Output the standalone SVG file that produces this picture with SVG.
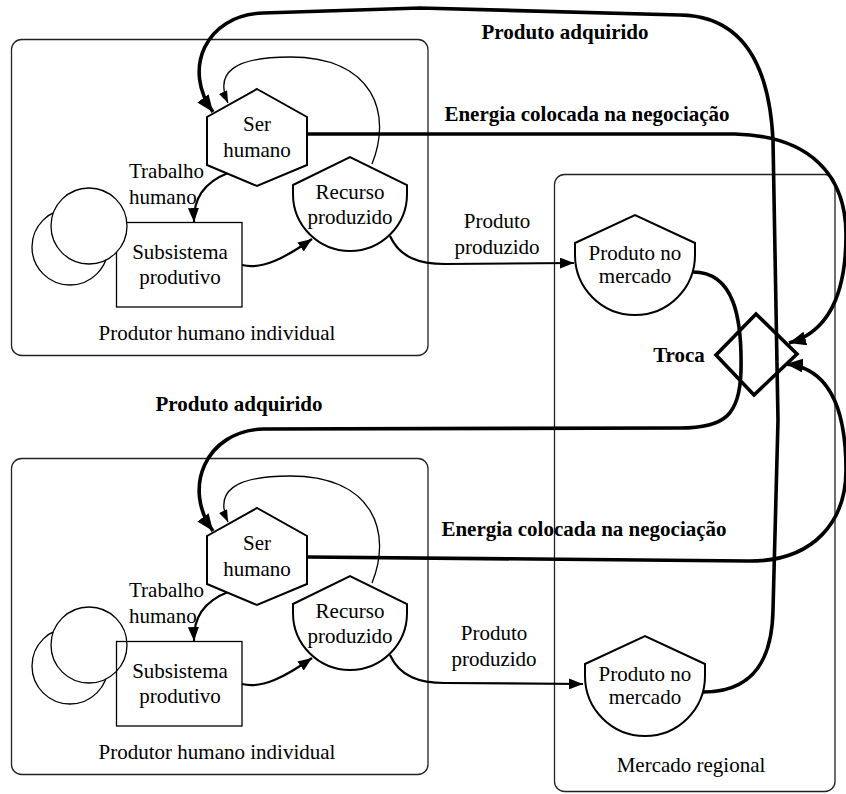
<svg xmlns="http://www.w3.org/2000/svg" width="846" height="794" viewBox="0 0 846 794" font-family="'Liberation Serif', 'Times New Roman', 'DejaVu Serif', serif">
<style>
text{font-family:"Liberation Serif","Times New Roman","DejaVu Serif",serif;font-size:21px;fill:#000;text-anchor:middle}
.b{font-weight:bold}
.st{text-anchor:start}
.box{fill:none;stroke:#222;stroke-width:1.3}
.node{fill:#fff;stroke:#000;stroke-width:2}
.thin{fill:#fff;stroke:#000;stroke-width:1.3}
.thick{fill:none;stroke:#000;stroke-width:3.6}
.med{fill:none;stroke:#000;stroke-width:2.2}
.lite{fill:none;stroke:#000;stroke-width:1.3}
</style>
<defs>
<marker id="aBig" markerUnits="userSpaceOnUse" markerWidth="18" markerHeight="14" refX="17" refY="7" orient="auto"><path d="M0,0 L17,7 L0,14 Z" fill="#000"/></marker>
<marker id="aMed" markerUnits="userSpaceOnUse" markerWidth="14" markerHeight="11" refX="14" refY="5.5" orient="auto"><path d="M0,0 L14,5.5 L0,11 Z" fill="#000"/></marker>
<marker id="aSm" markerUnits="userSpaceOnUse" markerWidth="12" markerHeight="9" refX="12" refY="4.5" orient="auto"><path d="M0,0 L12,4.5 L0,9 Z" fill="#000"/></marker>
</defs>
<rect width="846" height="794" fill="#fff"/>

<!-- containers -->
<g id="produtor1"><rect class="box" x="11.5" y="39.5" width="416.5" height="316" rx="10"/><text x="217" y="340">Produtor humano individual</text></g>
<g id="produtor2"><rect class="box" x="11.5" y="458.5" width="416.5" height="316" rx="10"/><text x="217" y="759">Produtor humano individual</text></g>
<g id="mercado"><rect class="box" x="554.5" y="174.5" width="280.5" height="617" rx="10"/><text x="691" y="772">Mercado regional</text></g>

<!-- connectors -->
<g id="connectors">
<path class="lite" marker-end="url(#aSm)" d="M372,164 C392,115 375,57 290,57 C235,57 214,72 228,103"/>
<path class="med" marker-end="url(#aMed)" d="M228,173 C205,182 193,198 194,222"/>
<path class="med" marker-end="url(#aMed)" d="M242,265 C262,270 285,258 312,239"/>
<path class="med" marker-end="url(#aMed)" d="M390,236 C400,258 420,264 445,264 L574,263"/>
<path class="lite" marker-end="url(#aSm)" d="M372,583 C392,534 375,476 290,476 C235,476 214,491 228,522"/>
<path class="med" marker-end="url(#aMed)" d="M228,592 C205,601 193,617 194,641"/>
<path class="med" marker-end="url(#aMed)" d="M242,684 C262,689 285,677 312,658"/>
<path class="med" marker-end="url(#aMed)" d="M390,655 C400,677 420,683 445,683 L583,684"/>
<path class="thick" marker-end="url(#aBig)" d="M703,692 C745,692 772,670 773,610 L778,420 L773,140 C769,60 740,16 680,15 L420,8 L263,13 C205,15 182,70 213,112"/>
<path class="thick" marker-end="url(#aBig)" d="M693,272 C735,272 742,320 741,370 C740,415 725,428 680,428 L263,429 C205,431 182,489 213,531"/>
<path class="thick" marker-end="url(#aBig)" d="M307,134 L735,134 C810,136 846,175 846,235 C846,300 825,333 789,343"/>
<path class="thick" marker-end="url(#aBig)" d="M307,557 L748,561 C815,562 846,520 846,470 C846,410 830,368 786,364"/>
<text class="b" x="565" y="39">Produto adquirido</text>
<text class="b" x="587" y="121">Energia colocada na negociação</text>
<text class="b" x="239" y="411">Produto adquirido</text>
<text class="b" x="584" y="536">Energia colocada na negociação</text>
<text class="st" x="129" y="178">Trabalho</text>
<text class="st" x="129" y="204">humano</text>
<text class="st" x="129" y="597">Trabalho</text>
<text class="st" x="129" y="623">humano</text>
<text x="497" y="228">Produto</text>
<text x="497" y="254">produzido</text>
<text x="494" y="640">Produto</text>
<text x="494" y="666">produzido</text>
</g>

<!-- top panel nodes -->
<g id="subsistema1"><rect class="thin" x="116.5" y="222.5" width="125.5" height="84.5"/><circle class="thin" cx="70" cy="247" r="38"/><circle class="thin" cx="89" cy="226" r="38"/><text x="180" y="259">Subsistema</text><text x="180" y="284">produtivo</text></g>
<g id="ser1"><polygon class="node" points="257,89 307,117 307,165 257,186 207,165 207,117"/><text x="257" y="131">Ser</text><text x="257" y="157">humano</text></g>
<g id="recurso1"><path class="node" d="M293,185 L350,157 L407,185 L407,194 A57,57 0 0 1 293,194 Z"/><text x="350" y="199">Recurso</text><text x="350" y="224">produzido</text></g>

<!-- bottom panel nodes -->
<g id="subsistema2"><circle class="thin" cx="70" cy="666" r="38"/><circle class="thin" cx="89" cy="645" r="38"/><rect class="box" style="stroke:#000" x="116.5" y="641.5" width="125.5" height="84.5"/><text x="180" y="678">Subsistema</text><text x="180" y="703">produtivo</text></g>
<g id="ser2"><polygon class="node" points="257,508 307,536 307,584 257,605 207,584 207,536"/><text x="257" y="550">Ser</text><text x="257" y="576">humano</text></g>
<g id="recurso2"><path class="node" d="M293,604 L350,576 L407,604 L407,613 A57,57 0 0 1 293,613 Z"/><text x="350" y="618">Recurso</text><text x="350" y="643">produzido</text></g>

<!-- market nodes -->
<g id="produtoMercado1"><path class="node" d="M575,243 L635,215 L695,243 L695,255 A60,60 0 0 1 575,255 Z"/><text x="635" y="260">Produto no</text><text x="635" y="283">mercado</text></g>
<g id="produtoMercado2"><path class="node" d="M585,664 L645,636 L705,664 L705,676 A60,60 0 0 1 585,676 Z"/><text x="645" y="681">Produto no</text><text x="645" y="704">mercado</text></g>
<g id="troca"><polygon fill="none" stroke="#000" stroke-width="3.6" points="716,355 756,314 797,354 754,395"/><text class="b" x="679" y="362">Troca</text></g>
</svg>
